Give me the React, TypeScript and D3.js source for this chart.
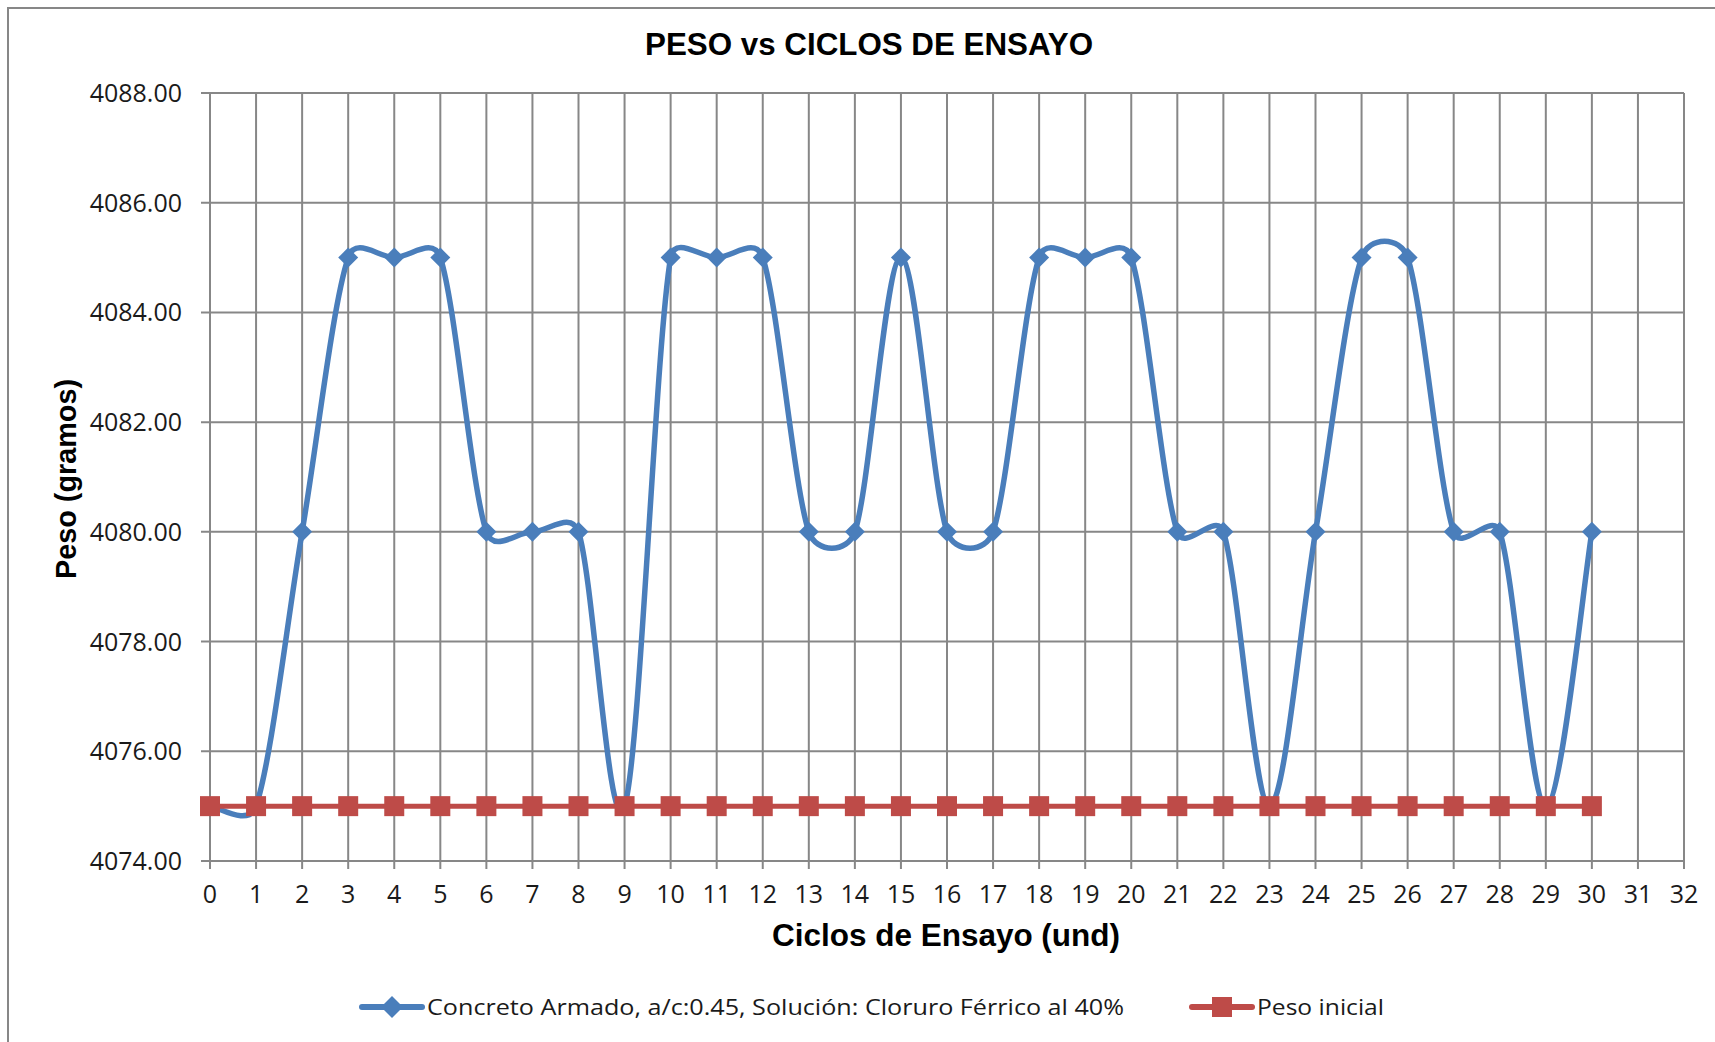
import React from "react";
import * as d3 from "d3";

const cycles: number[] = Array.from({ length: 31 }, (_, i) => i);
const pesoConcreto: number[] = [
  4075, 4075, 4080, 4085, 4085, 4085, 4080, 4080, 4080, 4075,
  4085, 4085, 4085, 4080, 4080, 4085, 4080, 4080, 4085, 4085,
  4085, 4080, 4080, 4075, 4080, 4085, 4085, 4080, 4080, 4075, 4080,
];
const pesoInicial: number[] = cycles.map(() => 4075);
const xTicks: number[] = Array.from({ length: 33 }, (_, i) => i);
const yTicks: number[] = [4074, 4076, 4078, 4080, 4082, 4084, 4086, 4088];

const title = "PESO vs CICLOS DE ENSAYO";
const xTitle = "Ciclos de Ensayo (und)";
const yTitle = "Peso (gramos)";
const legend1 = "Concreto Armado, a/c:0.45, Solución: Cloruro Férrico al 40%";
const legend2 = "Peso inicial";

const W = 1715;
const H = 1042;
const L = 210, R = 1684, T = 93, B = 861;
const GRID = "#878787";
const BLUE = "#4A7EBB";
const RED = "#BE4B48";
const TICKFONT = "'Open Sans', sans-serif";
const BOLDFONT = "'Liberation Sans', Arial, sans-serif";

// Excel-like smoothed line: Bezier with tangents (P[i+1]-P[i-1])/6,
// arm length limited relative to the adjoining segment.
function excelSmooth(pts: [number, number][], k = 0.5): string {
  const p = d3.path();
  if (!pts.length) return "";
  const tan = pts.map((pt, i) => {
    const a = pts[Math.max(0, i - 1)];
    const b = pts[Math.min(pts.length - 1, i + 1)];
    return [(b[0] - a[0]) / 6, (b[1] - a[1]) / 6] as [number, number];
  });
  const clamp = (t: [number, number], len: number): [number, number] => {
    const m = Math.hypot(t[0], t[1]);
    const lim = k * len;
    if (m > lim && m > 0) return [(t[0] * lim) / m, (t[1] * lim) / m];
    return t;
  };
  p.moveTo(pts[0][0], pts[0][1]);
  for (let i = 0; i < pts.length - 1; i++) {
    const p0 = pts[i];
    const p1 = pts[i + 1];
    const len = Math.hypot(p1[0] - p0[0], p1[1] - p0[1]);
    const a = clamp(tan[i], len);
    const b = clamp(tan[i + 1], len);
    p.bezierCurveTo(p0[0] + a[0], p0[1] + a[1], p1[0] - b[0], p1[1] - b[1], p1[0], p1[1]);
  }
  return p.toString();
}

export default function App() {
  const x = d3.scaleLinear().domain([0, 32]).range([L, R]);
  const y = d3.scaleLinear().domain([4074, 4088]).range([B, T]);

  const bluePts = pesoConcreto.map((v, i) => [x(cycles[i]), y(v)] as [number, number]);
  const straight = d3
    .line<number>()
    .x((_, i) => x(cycles[i]))
    .y((d) => y(d));

  const diamond = (cx: number, cy: number, r: number) =>
    `M${cx},${cy - r}L${cx + r},${cy}L${cx},${cy + r}L${cx - r},${cy}Z`;

  return (
    <svg
      width={W}
      height={H}
      style={{ position: "absolute", left: 0, top: 0, background: "#fff" }}
    >
      <rect x={0} y={0} width={W} height={H} fill="#fff" />
      <rect x={8} y={8} width={W + 10} height={H + 10} fill="none" stroke={GRID} strokeWidth={2} />

      {/* grid */}
      {yTicks.map((v) => (
        <line key={"h" + v} x1={L - 9} x2={R} y1={y(v)} y2={y(v)} stroke={GRID} strokeWidth={2} />
      ))}
      {xTicks.map((v) => (
        <line key={"v" + v} x1={x(v)} x2={x(v)} y1={T} y2={B + 8} stroke={GRID} strokeWidth={2} />
      ))}

      {/* y tick labels */}
      {yTicks.map((v) => (
        <text
          key={"yl" + v}
          x={182}
          y={y(v)}
          dy="0.36em"
          textAnchor="end"
          fontFamily={TICKFONT}
          fontSize={25}
          fill="#1a1a1a"
        >
          {v.toFixed(2)}
        </text>
      ))}
      {/* x tick labels */}
      {xTicks.map((v) => (
        <text
          key={"xl" + v}
          x={x(v)}
          y={903}
          textAnchor="middle"
          fontFamily={TICKFONT}
          fontSize={25}
          fill="#1a1a1a"
        >
          {v}
        </text>
      ))}

      {/* series 1 */}
      <path d={excelSmooth(bluePts)} fill="none" stroke={BLUE} strokeWidth={5.5} strokeLinejoin="round" />
      {bluePts.map((pt, i) => (
        <path key={"d" + i} d={diamond(pt[0], pt[1], 10)} fill={BLUE} />
      ))}

      {/* series 2 */}
      <path d={straight(pesoInicial) || ""} fill="none" stroke={RED} strokeWidth={5} />
      {pesoInicial.map((v, i) => (
        <rect key={"s" + i} x={x(cycles[i]) - 10} y={y(v) - 10} width={20} height={20} fill={RED} />
      ))}

      {/* titles */}
      <text x={869} y={55} textAnchor="middle" fontFamily={BOLDFONT} fontWeight="bold" fontSize={31} textLength={448} lengthAdjust="spacingAndGlyphs">
        {title}
      </text>
      <text x={946} y={946} textAnchor="middle" fontFamily={BOLDFONT} fontWeight="bold" fontSize={31} textLength={348} lengthAdjust="spacingAndGlyphs">
        {xTitle}
      </text>
      <text
        transform={`translate(76,479) rotate(-90)`}
        textAnchor="middle"
        fontFamily={BOLDFONT}
        fontWeight="bold"
        fontSize={29}
        textLength={200}
        lengthAdjust="spacingAndGlyphs"
      >
        {yTitle}
      </text>

      {/* legend */}
      <line x1={362} x2={422} y1={1007} y2={1007} stroke={BLUE} strokeWidth={6} strokeLinecap="round" />
      <path d={diamond(392, 1007, 11)} fill={BLUE} />
      <text x={427} y={1007} dy="0.36em" fontFamily={TICKFONT} fontSize={22} fill="#1a1a1a" textLength={697} lengthAdjust="spacingAndGlyphs">
        {legend1}
      </text>
      <line x1={1192} x2={1252} y1={1007} y2={1007} stroke={RED} strokeWidth={6} strokeLinecap="round" />
      <rect x={1212} y={997} width={20} height={20} fill={RED} />
      <text x={1257} y={1007} dy="0.36em" fontFamily={TICKFONT} fontSize={22} fill="#1a1a1a" textLength={127} lengthAdjust="spacingAndGlyphs">
        {legend2}
      </text>
    </svg>
  );
}
